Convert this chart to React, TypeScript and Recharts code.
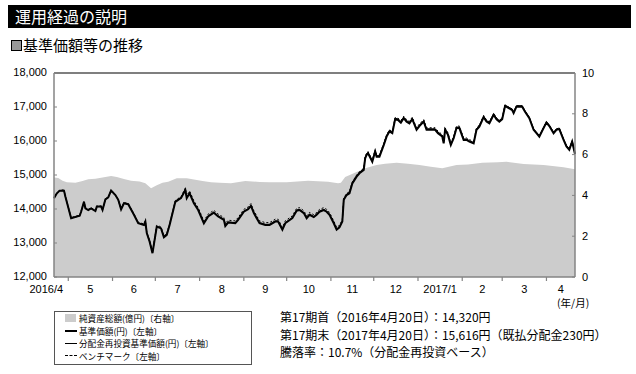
import React from 'react';
import { ComposedChart, Area, Line, XAxis, YAxis, ReferenceLine } from 'recharts';

const FONT = '"Noto Sans CJK JP", "Noto Sans", sans-serif';
const NUM_FONT = '"Liberation Sans", Arial, sans-serif';

// x = 2016/4/20 からの経過日数
const navDays = [
  0, 2, 4, 7, 8, 12, 18, 19, 21, 22,
  24, 26, 29, 30, 33, 34, 36, 38, 40, 43,
  45, 47, 49, 52, 56, 59, 63, 64, 65, 67,
  69, 72, 74, 75, 77, 79, 81, 85, 87, 89,
  92, 93, 95, 98, 101, 105, 108, 112, 115, 119,
  120, 122, 127, 129, 133, 136, 138, 140, 142, 144,
  148, 151, 155, 157, 160, 162, 167, 170, 172, 175,
  177, 179, 182, 184, 186, 189, 191, 193, 196, 198,
  200, 202, 203, 205, 207, 209, 212, 214, 217, 218,
  219, 220, 223, 225, 226, 228, 231, 233, 235, 237,
  239, 241, 243, 245, 247, 249, 251, 254, 256, 259,
  261, 265, 267, 269, 272, 273, 274, 276, 278, 280,
  282, 284, 287, 289, 291, 294, 296, 298, 301, 303,
  305, 308, 310, 312, 314, 316, 318, 321, 322, 324,
  328, 330, 333, 336, 338, 340, 343, 345, 347, 350,
  352, 354, 357, 359, 361, 363, 365,
];

// 基準価額(円)
const nav = [
  14320, 14460, 14540, 14540, 14360, 13730, 13800, 13920, 14210, 14020,
  13970, 14020, 13940, 14070, 14070, 13970, 14280, 14340, 14540, 14410,
  14270, 13990, 14170, 14140, 13830, 13580, 13530, 13630, 13290, 13040,
  12700, 13480, 13450, 13430, 13170, 13240, 13530, 14210, 14270, 14320,
  14560, 14320, 14460, 14170, 13970, 13580, 13780, 13890, 13780, 13680,
  13500, 13600, 13580, 13680, 13920, 13990, 14090, 13880, 13730, 13580,
  13530, 13530, 13630, 13630, 13390, 13580, 13730, 13950, 13970, 13880,
  13730, 13830, 13760, 13830, 13920, 13970, 13920, 13830, 13580, 13390,
  13460, 13630, 14270, 14410, 14460, 14750, 14950, 15050, 15150, 15490,
  15590, 15640, 15390, 15690, 15540, 15540, 15880, 16130, 16280, 16230,
  16640, 16620, 16540, 16670, 16570, 16520, 16640, 16330, 16440, 16570,
  16330, 16330, 16330, 16230, 16130, 15930, 16330, 16180, 15880, 16080,
  16380, 16380, 16030, 16030, 15980, 15930, 16330, 16420, 16700, 16570,
  16520, 16770, 16640, 16570, 16640, 17030, 16980, 16910, 16820, 17010,
  17010, 16860, 16670, 16330, 16230, 16130, 16380, 16540, 16440, 16230,
  16330, 16350, 16030, 15840, 15740, 15980, 15616,
];

// 分配金再投資基準価額(円)
const navReinvested = [
  14320, 14460, 14540, 14540, 14360, 13730, 13800, 13920, 14210, 14020,
  13970, 14020, 13940, 14070, 14070, 13970, 14280, 14340, 14540, 14410,
  14270, 13990, 14170, 14140, 13840, 13590, 13540, 13640, 13300, 13050,
  12710, 13490, 13460, 13440, 13180, 13250, 13550, 14230, 14290, 14340,
  14580, 14340, 14480, 14190, 13990, 13600, 13800, 13910, 13800, 13700,
  13520, 13620, 13600, 13700, 13940, 14010, 14110, 13900, 13750, 13600,
  13550, 13550, 13650, 13650, 13410, 13600, 13750, 13970, 13990, 13900,
  13750, 13850, 13780, 13850, 13940, 13990, 13940, 13850, 13600, 13410,
  13480, 13650, 14290, 14440, 14490, 14780, 14980, 15080, 15180, 15520,
  15620, 15670, 15420, 15720, 15570, 15570, 15910, 16160, 16310, 16260,
  16670, 16650, 16570, 16700, 16600, 16550, 16670, 16360, 16470, 16600,
  16360, 16360, 16360, 16260, 16160, 15960, 16360, 16210, 15910, 16110,
  16410, 16410, 16060, 16060, 16010, 15960, 16360, 16450, 16730, 16600,
  16550, 16800, 16670, 16600, 16670, 17060, 17010, 16940, 16850, 17040,
  17040, 16890, 16700, 16360, 16260, 16160, 16410, 16570, 16470, 16260,
  16360, 16380, 16060, 15870, 15770, 16010, 15646,
];

// ベンチマーク
const benchmark = [
  14320, 14470, 14560, 14560, 14380, 13750, 13820, 13940, 14230, 14040,
  13990, 14040, 13960, 14090, 14090, 13990, 14300, 14360, 14560, 14430,
  14290, 14010, 14190, 14160, 13860, 13610, 13560, 13660, 13320, 13070,
  12740, 13520, 13490, 13470, 13210, 13280, 13570, 14250, 14310, 14360,
  14620, 14390, 14530, 14240, 14040, 13650, 13850, 13960, 13850, 13750,
  13570, 13670, 13650, 13750, 13990, 14060, 14160, 13950, 13800, 13650,
  13600, 13600, 13700, 13700, 13460, 13650, 13800, 14020, 14040, 13950,
  13800, 13900, 13830, 13900, 13990, 14040, 13990, 13900, 13650, 13460,
  13520, 13690, 14320, 14460, 14510, 14800, 15000, 15100, 15200, 15540,
  15640, 15690, 15440, 15740, 15590, 15590, 15930, 16180, 16330, 16280,
  16690, 16670, 16600, 16730, 16630, 16580, 16700, 16390, 16500, 16630,
  16390, 16390, 16390, 16290, 16190, 15990, 16390, 16240, 15940, 16140,
  16440, 16440, 16090, 16090, 16040, 15990, 16390, 16470, 16750, 16620,
  16560, 16810, 16680, 16610, 16680, 17060, 17010, 16940, 16850, 17030,
  17030, 16880, 16690, 16350, 16250, 16150, 16400, 16560, 16460, 16250,
  16350, 16370, 16050, 15860, 15760, 16000, 15630,
];

// 純資産総額(億円)
const netAssetDays = [
  0, 3, 6, 9, 15, 20, 24, 29, 34, 40,
  44, 49, 54, 60, 64, 68, 72, 76, 80, 86,
  93, 98, 104, 110, 116, 124, 134, 144, 151, 163,
  178, 192, 199, 201, 204, 210, 218, 226, 232, 240,
  248, 256, 264, 272, 282, 290, 300, 311, 317, 329,
  343, 357, 365,
];
const netAssets = [
  4.88, 4.85, 4.72, 4.64, 4.62, 4.7, 4.79, 4.82, 4.88, 4.95,
  4.9, 4.8, 4.72, 4.68, 4.6, 4.35, 4.5, 4.62, 4.67, 4.84,
  4.84, 4.78, 4.7, 4.64, 4.62, 4.59, 4.7, 4.66, 4.64, 4.64,
  4.72, 4.67, 4.59, 4.62, 4.9, 5.08, 5.33, 5.49, 5.55, 5.6,
  5.55, 5.49, 5.4, 5.33, 5.49, 5.52, 5.6, 5.62, 5.65, 5.54,
  5.49, 5.38, 5.28,
];

// 月の区切り(前月末日)と月ラベル
const monthBounds = [0, 10, 41, 71, 102, 133, 163, 194, 224, 255, 286, 314, 345, 365];
const monthLabels = ['2016/4', '5', '6', '7', '8', '9', '10', '11', '12', '2017/1', '2', '3', '4'];
const leftTicks = [12000, 13000, 14000, 15000, 16000, 17000, 18000];
const rightTicks = [0, 2, 4, 6, 8, 10];

type Row = { day: number; nav?: number; reinvested?: number; benchmark?: number; netAssets?: number };

const rowMap = new Map<number, Row>();
const rowAt = (d: number) => {
  if (!rowMap.has(d)) rowMap.set(d, { day: d });
  return rowMap.get(d)!;
};
navDays.forEach((d, i) => {
  const r = rowAt(d);
  r.nav = nav[i];
  r.reinvested = navReinvested[i];
  r.benchmark = benchmark[i];
});
netAssetDays.forEach((d, i) => {
  rowAt(d).netAssets = netAssets[i];
});
const chartData = Array.from(rowMap.values()).sort((a, b) => a.day - b.day);

const labelPos = monthLabels.map((_, i) => (monthBounds[i] + monthBounds[i + 1]) / 2);
const boundTicks = monthBounds.slice(1, -1);
const xTicks = [...boundTicks, ...labelPos].sort((a, b) => a - b);

const AXIS_GRAY = '#858585';

function MonthTick(props: any) {
  const { x, y, payload } = props;
  const li = labelPos.indexOf(payload.value);
  if (li < 0) {
    return <line x1={x} x2={x} y1={y} y2={y + 4} stroke={AXIS_GRAY} strokeWidth={1.2} />;
  }
  const first = li === 0;
  return (
    <text
      x={first ? x + 2 : x}
      y={y + 15.5}
      textAnchor={first ? 'end' : 'middle'}
      fontSize={11}
      fontFamily={NUM_FONT}
      fill="#000"
    >
      {monthLabels[li]}
    </text>
  );
}

function LeftTick(props: any) {
  const { x, y, payload } = props;
  return (
    <g>
      <line x1={x} x2={x + 3} y1={y} y2={y} stroke={AXIS_GRAY} />
      <text x={x - 7} y={y} dy={3} textAnchor="end" fontSize={11} fontFamily={NUM_FONT} fill="#000">
        {payload.value.toLocaleString('en-US')}
      </text>
    </g>
  );
}

function RightTick(props: any) {
  const { x, y, payload } = props;
  return (
    <g>
      <line x1={x - 3} x2={x} y1={y} y2={y} stroke={AXIS_GRAY} />
      <text x={x + 7} y={y} dy={3.5} textAnchor="start" fontSize={11} fontFamily={NUM_FONT} fill="#000">
        {payload.value}
      </text>
    </g>
  );
}

const legendRows = [
  { label: '純資産総額(億円)〔右軸〕', kind: 'box' },
  { label: '基準価額(円)〔左軸〕', kind: 'thick' },
  { label: '分配金再投資基準価額(円)〔左軸〕', kind: 'thin' },
  { label: 'ベンチマーク〔左軸〕', kind: 'dash' },
];
const legendTops = [312, 324.5, 337, 349.5];

const summaryLines = [
  '第17期首（2016年4月20日）：14,320円',
  '第17期末（2017年4月20日）：15,616円（既払分配金230円）',
  '騰落率：10.7%（分配金再投資ベース）',
];

function Swatch({ kind }: { kind: string }) {
  if (kind === 'box') return <div style={{ width: 11, height: 8, background: '#cccccc' }} />;
  const border =
    kind === 'thick' ? '2px solid #000' : kind === 'thin' ? '1px solid #000' : '1px dashed #000';
  return <div style={{ width: 12, height: 0, borderTop: border }} />;
}

export default function App() {
  return (
    <div
      style={{
        position: 'absolute',
        left: 0,
        top: 0,
        width: 636,
        height: 374,
        background: '#fff',
        fontFamily: FONT,
        color: '#000',
        overflow: 'hidden',
      }}
    >
      {/* 見出しバー */}
      <div style={{ position: 'absolute', left: 8, top: 5, width: 623, height: 23, background: '#000' }} />
      <div style={{ position: 'absolute', left: 15, top: 5, height: 23, lineHeight: '23px', fontSize: 16, color: '#fff' }}>
        運用経過の説明
      </div>
      <div
        style={{
          position: 'absolute',
          left: 11,
          top: 40,
          width: 9,
          height: 9,
          background: '#999',
          border: '1.5px solid #000',
        }}
      />
      <div style={{ position: 'absolute', left: 23, top: 35, lineHeight: '20px', fontSize: 15 }}>基準価額等の推移</div>

      <div style={{ position: 'absolute', left: 0, top: 0 }}>
        <ComposedChart
          width={636}
          height={374}
          data={chartData}
          margin={{ top: 73, right: 0, bottom: 67, left: 0 }}
        >
          <XAxis
            dataKey="day"
            type="number"
            domain={[0, 365]}
            ticks={xTicks}
            interval={0}
            height={30}
            tickLine={false}
            tickSize={0}
            tickMargin={0}
            axisLine={{ stroke: AXIS_GRAY, strokeWidth: 1.5 }}
            tick={(p: any) => <MonthTick {...p} />}
          />
          <YAxis
            yAxisId="left"
            orientation="left"
            width={54}
            domain={[12000, 18000]}
            ticks={leftTicks}
            interval={0}
            tickLine={false}
            tickSize={0}
            tickMargin={0}
            axisLine={{ stroke: AXIS_GRAY, strokeWidth: 1.5 }}
            tick={(p: any) => <LeftTick {...p} />}
          />
          <YAxis
            yAxisId="right"
            orientation="right"
            width={61}
            domain={[0, 10]}
            ticks={rightTicks}
            interval={0}
            tickLine={false}
            tickSize={0}
            tickMargin={0}
            axisLine={{ stroke: AXIS_GRAY, strokeWidth: 1.5 }}
            tick={(p: any) => <RightTick {...p} />}
          />
          <Area
            yAxisId="right"
            type="linear"
            dataKey="netAssets"
            fill="#cccccc"
            fillOpacity={1}
            stroke="none"
            connectNulls
            dot={false}
            activeDot={false}
            isAnimationActive={false}
          />
          <ReferenceLine yAxisId="left" y={18000} stroke="#000" strokeWidth={1.2} />
          <Line
            yAxisId="left"
            type="linear"
            dataKey="benchmark"
            stroke="#000"
            strokeWidth={1}
            strokeDasharray="2 2"
            connectNulls
            dot={false}
            activeDot={false}
            isAnimationActive={false}
          />
          <Line
            yAxisId="left"
            type="linear"
            dataKey="reinvested"
            stroke="#000"
            strokeWidth={1}
            connectNulls
            dot={false}
            activeDot={false}
            isAnimationActive={false}
          />
          <Line
            yAxisId="left"
            type="linear"
            dataKey="nav"
            stroke="#000"
            strokeWidth={2}
            connectNulls
            dot={false}
            activeDot={false}
            isAnimationActive={false}
          />
        </ComposedChart>
      </div>

      <div style={{ position: 'absolute', left: 557, top: 297, fontSize: 10.5, lineHeight: '12px' }}>(年/月)</div>

      {/* 凡例 */}
      <div
        style={{
          position: 'absolute',
          left: 54,
          top: 311,
          width: 196,
          height: 52,
          border: '1px solid #555',
        }}
      />
      {legendRows.map((r, i) => (
        <div
          key={r.label}
          style={{
            position: 'absolute',
            left: 65,
            top: legendTops[i],
            height: 12.5,
            display: 'flex',
            alignItems: 'center',
            fontSize: 8.6,
            lineHeight: '12.5px',
            whiteSpace: 'nowrap',
          }}
        >
          <div style={{ width: 13, display: 'flex', alignItems: 'center' }}>
            <Swatch kind={r.kind} />
          </div>
          <span style={{ marginLeft: 1 }}>{r.label}</span>
        </div>
      ))}

      {summaryLines.map((t, i) => (
        <div
          key={t}
          style={{
            position: 'absolute',
            left: 280,
            top: 308 + i * 17.7,
            fontSize: 12,
            lineHeight: '17.7px',
            whiteSpace: 'nowrap',
          }}
        >
          {t}
        </div>
      ))}
    </div>
  );
}
